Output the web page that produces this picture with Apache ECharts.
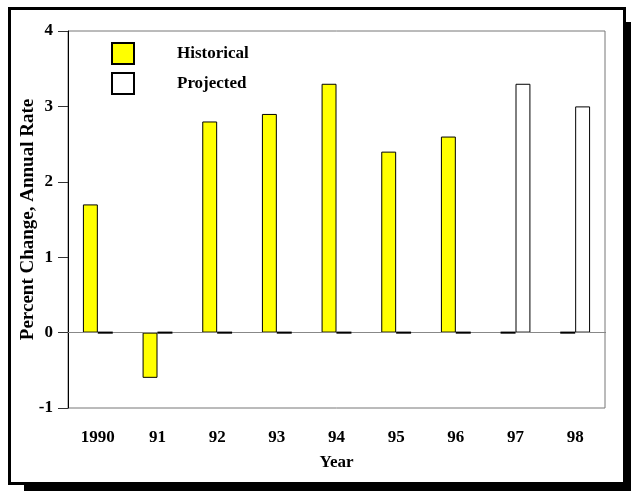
<!DOCTYPE html>
<html>
<head>
<meta charset="utf-8">
<script src="https://cdn.jsdelivr.net/npm/echarts@6/dist/echarts.min.js"></script>
<style>
  html, body { margin: 0; padding: 0; background: #fff; }
  #chart { width: 631px; height: 491px; }
</style>
</head>
<body>
<div id="chart"></div>
<script>
// Annual percent change, historical vs projected
const years = ['1990', '91', '92', '93', '94', '95', '96', '97', '98'];
const historical = [1.7, -0.6, 2.8, 2.9, 3.3, 2.4, 2.6, 0, 0];
const projected = [0, 0, 0, 0, 0, 0, 0, 3.3, 3.0];
const yTicks = [-1, 0, 1, 2, 3, 4];

const FONT = '"Liberation Serif", "Times New Roman", serif';
const labelStyle = { fontFamily: FONT, fontWeight: 'bold', color: '#000' };

// Bars of height zero get no outline from the bar series, so draw them
// as flat strokes at their slot: side -1 = left half of the band, +1 = right half.
function zeroStrokes(values, side) {
  return {
    type: 'custom',
    coordinateSystem: 'cartesian2d',
    silent: true,
    z: 5,
    data: values.map((v, i) => [i, v]),
    renderItem: function (params, api) {
      if (api.value(1) !== 0) return null;
      const p = api.coord([api.value(0), 0]);
      const band = api.size([1, 0])[0];
      const w = band / 4;
      const x0 = side < 0 ? p[0] - w : p[0];
      return {
        type: 'line',
        z2: 10,
        shape: { x1: x0, y1: p[1], x2: x0 + w, y2: p[1] },
        style: { stroke: '#000', lineWidth: 2 }
      };
    }
  };
}

const chart = echarts.init(document.getElementById('chart'), null, { renderer: 'canvas' });

chart.setOption({
  backgroundColor: '#fff',
  animation: false,
  graphic: [
    // drop shadow behind the frame
    { type: 'rect', z: -20, shape: { x: 24, y: 22, width: 620, height: 480 }, style: { fill: '#000' } },
    // white framed panel
    { type: 'rect', z: -10, shape: { x: 9.5, y: 8.5, width: 615, height: 475 }, style: { fill: '#fff', stroke: '#000', lineWidth: 3 } }
  ],
  grid: {
    left: 68, right: 26, top: 31, bottom: 83,
    show: true, borderColor: '#777', borderWidth: 1, backgroundColor: 'transparent'
  },
  legend: {
    orient: 'vertical',
    left: 106, top: 37,
    itemWidth: 22, itemHeight: 21, itemGap: 7,
    icon: 'rect',
    textStyle: Object.assign({ fontSize: 17, padding: [0, 0, 0, 38] }, labelStyle),
    data: ['Historical', 'Projected']
  },
  xAxis: {
    type: 'category',
    data: years,
    name: 'Year',
    nameLocation: 'middle',
    nameGap: 46,
    nameTextStyle: Object.assign({ fontSize: 17 }, labelStyle),
    axisLine: { lineStyle: { color: '#333', width: 1 } },
    axisTick: { alignWithLabel: true, length: 10, lineStyle: { color: '#333' } },
    axisLabel: Object.assign({ fontSize: 17, margin: 21 }, labelStyle)
  },
  yAxis: {
    type: 'value',
    min: yTicks[0], max: yTicks[yTicks.length - 1], interval: 1,
    name: 'Percent Change, Annual Rate',
    nameLocation: 'middle',
    nameGap: 30,
    nameMoveOverlap: false,
    nameRotate: 90,
    nameTextStyle: Object.assign({ fontSize: 19 }, labelStyle),
    axisLine: { show: true, lineStyle: { color: '#000', width: 1 } },
    axisTick: { show: true, length: 10, lineStyle: { color: '#333' } },
    axisLabel: Object.assign({ fontSize: 17, margin: 15 }, labelStyle),
    splitLine: { show: false }
  },
  series: [
    {
      name: 'Historical',
      type: 'bar',
      data: historical,
      barGap: '0%',
      barCategoryGap: '50%',
      itemStyle: { color: '#ffff00', borderColor: '#000', borderWidth: 1 },
      markLine: {
        silent: true,
        symbol: 'none',
        label: { show: false },
        lineStyle: { color: '#888', width: 1, type: 'solid' },
        data: [{ yAxis: 0 }]
      }
    },
    {
      name: 'Projected',
      type: 'bar',
      data: projected,
      barGap: '0%',
      barCategoryGap: '50%',
      itemStyle: { color: '#ffffff', borderColor: '#000', borderWidth: 1 }
    },
    zeroStrokes(historical, -1),
    zeroStrokes(projected, 1)
  ]
});
</script>
</body>
</html>
